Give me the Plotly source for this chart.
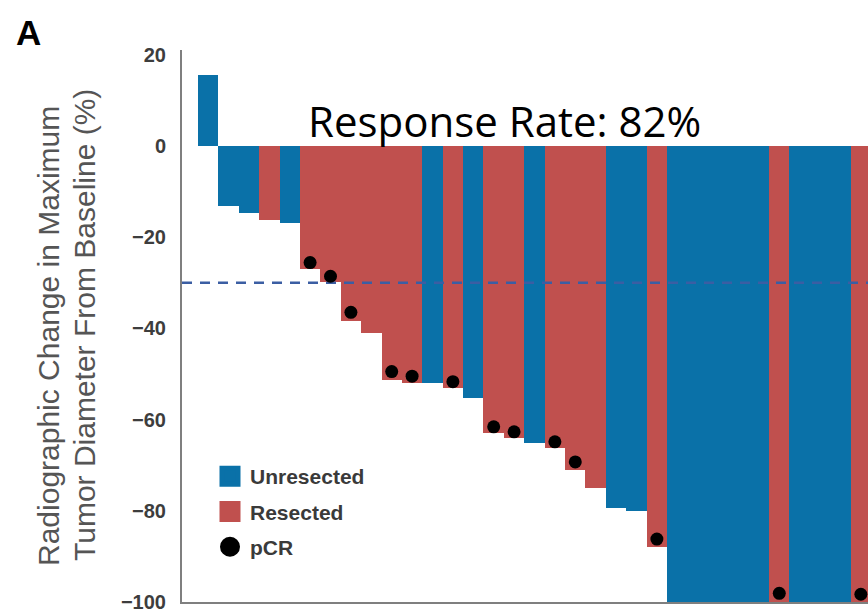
import plotly.graph_objects as go

# ---- data ----
patients = list(range(33))
change = [15.5, -13.2, -14.8, -16.3, -17.0, -27.1, -29.9, -38.3, -41.1, -51.3,
          -52.0, -52.1, -53.0, -55.2, -63.0, -64.0, -65.2, -66.2, -71.1, -75.1,
          -79.3, -80.0, -88.0, -100, -100, -100, -100, -100, -100, -100,
          -100, -100, -100]
status = ["U", "U", "U", "R", "U", "R", "R", "R", "R", "R",
          "R", "U", "R", "U", "R", "R", "U", "R", "R", "R",
          "U", "U", "R", "U", "U", "U", "U", "U", "R", "U",
          "U", "U", "R"]
pcr_patients = [5, 6, 7, 9, 10, 12, 14, 15, 17, 18, 22, 28, 32]
pcr_marker_y = [-25.6, -28.6, -36.5, -49.5, -50.5, -51.7, -61.6, -62.7, -64.9,
                -69.3, -86.2, -98.1, -98.3]
y_ticks = [20, 0, -20, -40, -60, -80, -100]
threshold = -30
legend_names = ["Unresected", "Resected", "pCR"]

BLUE = "#0a71a8"
RED = "#c0504e"
colors = [BLUE if s == "U" else RED for s in status]

x_range = [-1.28, 32.35]
y_range = [-100, 21]

fig = go.Figure()

fig.add_trace(go.Bar(
    x=patients, y=change, width=1,
    marker=dict(color=colors, line=dict(width=0)),
    showlegend=False, hoverinfo="x+y"))

fig.add_trace(go.Scatter(
    x=x_range, y=[threshold, threshold], mode="lines",
    line=dict(color="#3b5ea3", width=2.5, dash="10px,8px"),
    showlegend=False, hoverinfo="skip"))

fig.add_trace(go.Scatter(
    x=pcr_patients, y=pcr_marker_y, mode="markers",
    marker=dict(color="black", size=13, symbol="circle"),
    showlegend=False))

# legend entries
fig.add_trace(go.Scatter(x=[None], y=[None], mode="markers", name=legend_names[0],
                         legendgroup="a",
                         marker=dict(symbol="square", size=16, color=BLUE,
                                     line=dict(color=BLUE, width=5))))
fig.add_trace(go.Scatter(x=[None], y=[None], mode="markers", name=legend_names[1],
                         legendgroup="b",
                         marker=dict(symbol="square", size=16, color=RED,
                                     line=dict(color=RED, width=5))))
fig.add_trace(go.Scatter(x=[None], y=[None], mode="markers", name=legend_names[2],
                         legendgroup="c",
                         marker=dict(symbol="circle", size=16, color="black",
                                     line=dict(color="black", width=4))))

PW = 868 - 182
PH = 602 - 50


def px(xp):
    return (xp - 182) / PW


def py(yp):
    return (602 - yp) / PH


fig.update_layout(
    width=868, height=612,
    margin=dict(l=182, r=0, t=50, b=10),
    paper_bgcolor="white", plot_bgcolor="white",
    bargap=0,
    font=dict(family="Liberation Sans, Arial, sans-serif"),
    xaxis=dict(range=x_range, showticklabels=False, showgrid=False, zeroline=False,
               showline=True, linecolor="#7f7f7f", linewidth=2, ticks=""),
    yaxis=dict(range=y_range, tickvals=y_ticks, showgrid=False, zeroline=False,
               showline=True, linecolor="#7f7f7f", linewidth=2, ticks="",
               ticklabelstandoff=10, ticklabeloverflow="allow",
               tickfont=dict(size=20, color="#3d3d3d", weight="bold",
                             family="Liberation Sans, Arial, sans-serif")),
    legend=dict(x=px(210), y=py(456), xanchor="left", yanchor="top",
                bgcolor="rgba(0,0,0,0)", tracegroupgap=5, traceorder="grouped",
                font=dict(size=21, color="#3a3a3a", weight="bold",
                          family="Liberation Sans, Arial, sans-serif")),
    annotations=[
        dict(text="A", xref="paper", yref="paper", x=px(28), y=py(33),
             showarrow=False, xanchor="center", yanchor="middle",
             font=dict(size=35, color="black", weight="bold",
                       family="Liberation Sans, Arial, sans-serif")),
        dict(text="Radiographic Change in Maximum", xref="paper", yref="paper",
             x=px(48), y=py(336), textangle=-90, showarrow=False,
             xanchor="center", yanchor="middle",
             font=dict(size=30, color="#555555",
                       family="Liberation Sans, Arial, sans-serif")),
        dict(text="Tumor Diameter From Baseline (%)", xref="paper", yref="paper",
             x=px(84), y=py(325), textangle=-90, showarrow=False,
             xanchor="center", yanchor="middle",
             font=dict(size=30, color="#555555",
                       family="Liberation Sans, Arial, sans-serif")),
        dict(text="Response Rate: 82%", xref="paper", yref="paper",
             x=px(504), y=py(120), showarrow=False,
             xanchor="center", yanchor="middle",
             font=dict(size=42, color="black", family="Open Sans, sans-serif")),
    ],
)

fig.write_html("out.html")
